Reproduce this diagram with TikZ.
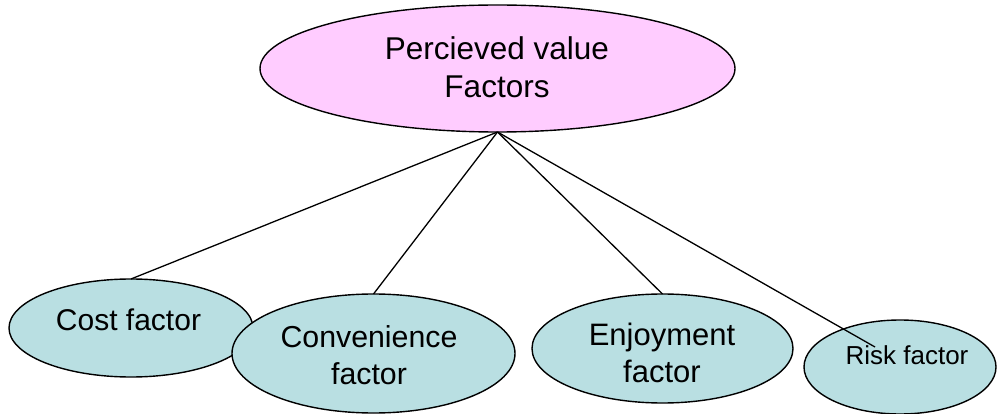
\documentclass[tikz,border=0pt]{standalone}
\usepackage{fontspec}
\setmainfont{Liberation Sans}
\usetikzlibrary{shapes.geometric}
\definecolor{rootfill}{HTML}{FFCCFF}
\definecolor{leaffill}{HTML}{B9DFE2}
\tikzset{
  oval/.style={ellipse, draw=black, line width=1.4pt, inner sep=0pt, outer sep=0pt},
  rootoval/.style={oval, fill=rootfill},
  leafoval/.style={oval, fill=leaffill},
  caption/.style={inner sep=0pt, align=center, text=black},
  link/.style={draw=black, line width=1.3pt}
}
\begin{document}
\begin{tikzpicture}[x=1pt, y=-1pt]
  \useasboundingbox (0,0) rectangle (999,414);
  % factor ovals, left to right (later ones overlap earlier ones)
  \node[leafoval, minimum width=244pt, minimum height=98pt] (cost) at (131,328) {};
  \node[leafoval, minimum width=283pt, minimum height=119pt] (conv) at (373.5,353.5) {};
  \node[leafoval, minimum width=261pt, minimum height=109pt] (enj) at (662.5,348.5) {};
  \node[leafoval, minimum width=192pt, minimum height=94pt] (risk) at (900,367) {};
  % root oval
  \node[rootoval, minimum width=475pt, minimum height=127pt] (root) at (497.5,68.5) {};
  % captions
  \node[caption, anchor=north, font=\fontsize{31.5}{38}\selectfont] (roottext) at (497,36) {Percieved value\\Factors};
  \node[caption, anchor=base, font=\fontsize{30}{36}\selectfont] (costtext) at (128.5,330) {Cost factor};
  \node[caption, anchor=north, font=\fontsize{30.3}{37}\selectfont] (convtext) at (369,325.5) {Convenience\\factor};
  \node[caption, anchor=north, font=\fontsize{31}{37}\selectfont] (enjtext) at (662,322.5) {Enjoyment\\factor};
  \node[caption, anchor=base, font=\fontsize{26}{31}\selectfont] (risktext) at (907,364) {Risk factor};
  % connectors
  \coordinate (riskend) at (875,347);
  \draw[link] (root.south) -- (cost.north);
  \draw[link] (root.south) -- (conv.north);
  \draw[link] (root.south) -- (enj.north);
  \draw[link] (root.south) -- (riskend);
\end{tikzpicture}
\end{document}
